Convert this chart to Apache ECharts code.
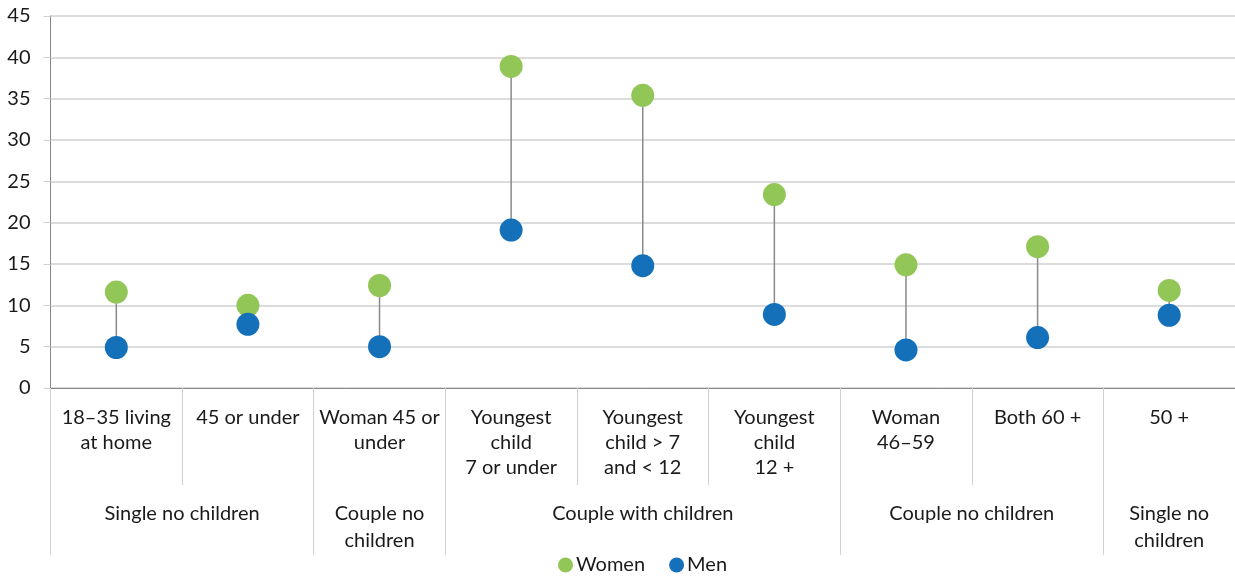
<!DOCTYPE html>
<html><head><meta charset="utf-8">
<script src="https://cdn.jsdelivr.net/npm/echarts@6/dist/echarts.min.js"></script>
<style>html,body{margin:0;padding:0;background:#fff}#c{width:1235px;height:581px}</style>
</head><body><div id="c"></div>
<script>
const categories = ['18–35 living\nat home','45 or under','Woman 45 or\nunder','Youngest\nchild\n7 or under','Youngest\nchild > 7\nand < 12','Youngest\nchild\n12 +','Woman\n46–59','Both 60 +','50 +'];
const groupNames = ['Single no children','Couple no\nchildren','Couple with children','Couple no children','Single no\nchildren'];
const groupBounds = [0,2,3,6,8,9];
const women = [11.6,10.0,12.4,38.9,35.4,23.4,14.9,17.1,11.8];
const men = [4.9,7.7,5.0,19.1,14.8,8.9,4.6,6.1,8.8];
const yTicks = [0,5,10,15,20,25,30,35,40,45];

const FONT = 'Lato';
const FS = 20;
const groupCenters = groupBounds.slice(0,-1).map((b,i)=>(b+groupBounds[i+1])/2);
const chart = echarts.init(document.getElementById('c'));
chart.setOption({
  animation:false,
  textStyle:{fontFamily:FONT},
  grid:{left:50.5,right:0,top:16,bottom:193,containLabel:false},
  legend:{bottom:1,left:553,itemWidth:15,itemHeight:15,itemGap:24,icon:'circle',
    textStyle:{fontSize:FS,color:'#1a1a1a',fontFamily:FONT,padding:[0,0,0,-2]},data:['Women','Men']},
  xAxis:[{
    type:'category',data:categories,boundaryGap:true,
    axisLine:{show:true,lineStyle:{color:'#888',width:1}},
    axisTick:{show:true,length:97,alignWithLabel:false,lineStyle:{color:'#d0d0d0',width:1}},
    axisLabel:{fontSize:FS,color:'#1a1a1a',lineHeight:25,margin:17,interval:0,fontFamily:FONT},
    splitLine:{show:false}
  },{
    type:'value',min:0,max:9,position:'bottom',
    axisLine:{show:false},
    axisTick:{show:true,length:167,customValues:groupBounds,lineStyle:{color:'#d0d0d0',width:1}},
    axisLabel:{show:true,customValues:groupCenters,fontSize:FS,color:'#1a1a1a',lineHeight:27,margin:112,fontFamily:FONT,
      formatter:function(v){const i=groupCenters.indexOf(v);return i>=0?groupNames[i]:'';},
      verticalAlign:'top'},
    splitLine:{show:false}
  }],
  yAxis:{type:'value',min:0,max:45,interval:5,
    axisLine:{show:true,lineStyle:{color:'#888'}},
    axisTick:{show:true,length:7,lineStyle:{color:'#d0d0d0'}},
    axisLabel:{fontSize:FS,color:'#1a1a1a',margin:20,fontFamily:FONT},
    splitLine:{lineStyle:{color:'#d0d0d0',width:1.5}}
  },
  series:[{
    type:'custom',silent:true,z:1,
    data:categories.map((c,i)=>[i,women[i],men[i]]),
    encode:{x:0,y:[1,2]},
    renderItem:function(params,api){
      const a=api.coord([api.value(0),api.value(1)]);
      const b=api.coord([api.value(0),api.value(2)]);
      return {type:'line',shape:{x1:a[0],y1:a[1],x2:b[0],y2:b[1]},style:{stroke:'#8a8a8a',lineWidth:1.5}};
    }
  },{
    name:'Women',type:'scatter',data:women,symbol:'circle',symbolSize:23,z:3,
    itemStyle:{color:'#92c656',opacity:1}
  },{
    name:'Men',type:'scatter',data:men,symbol:'circle',symbolSize:23,z:3,
    itemStyle:{color:'#1570ba',opacity:1}
  }]
});
</script></body></html>
